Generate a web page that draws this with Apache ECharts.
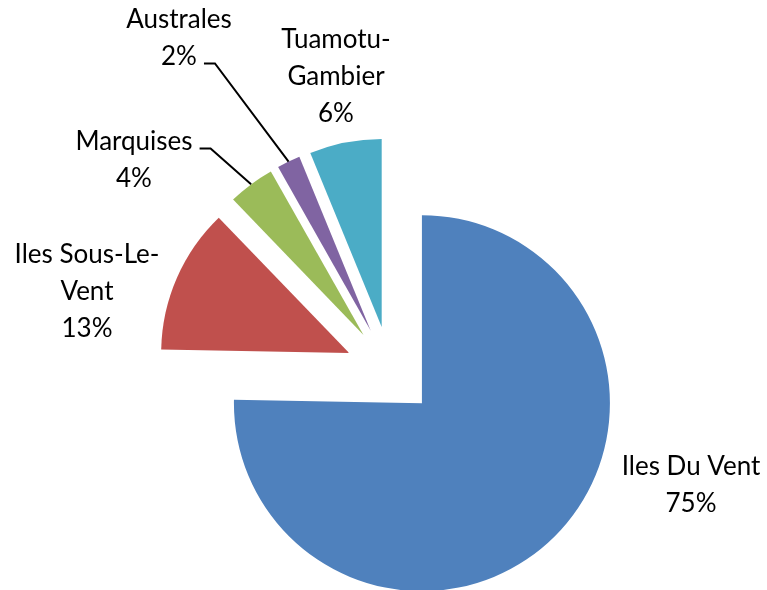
<!DOCTYPE html>
<html>
<head>
<meta charset="utf-8">
<script src="https://cdn.jsdelivr.net/npm/echarts@6/dist/echarts.min.js"></script>
<style>
  html, body { margin: 0; padding: 0; background: #fff; }
  #chart { width: 767px; height: 590px; }
</style>
</head>
<body>
<div id="chart"></div>
<script>
// archipelagos, clockwise from 12 o'clock
const regions = ['Iles Du Vent', 'Iles Sous-Le-\nVent', 'Marquises', 'Australes', 'Tuamotu-\nGambier'];
const shares = [75.3, 12.5, 4.0, 2.0, 6.2];
const colors = ['#4F81BD', '#C0504D', '#9BBB59', '#8064A2', '#4BACC6'];
// which text line the leader line leaves from (-1 = no leader)
const leaderFrom = [-1, -1, 0, 1, -1];

// where each label block is centred
const labelPos = [[691, 485], [87, 292], [134, 160], [179, 38], [336, 77]];

const EXPLODE = 45;
const FONT = 26;
const LINE_H = 37;

const ctx = document.createElement('canvas').getContext('2d');
ctx.font = FONT + 'px Lato';

const chart = echarts.init(document.getElementById('chart'));

const common = {
  type: 'pie',
  center: ['50.9%', '62.9%'],
  radius: 188,
  startAngle: 90,
  clockwise: true,
  avoidLabelOverlap: false,
  percentPrecision: 0,
  emphasis: { disabled: true }
};

chart.setOption({
  animation: false,
  series: [
    // exploded slices
    Object.assign({}, common, {
      selectedMode: 'multiple',
      selectedOffset: EXPLODE,
      label: { show: false },
      labelLine: { show: false },
      data: regions.map((name, i) => ({
        name: name,
        value: shares[i],
        selected: true,
        itemStyle: { color: colors[i] }
      }))
    }),
    // labels only
    Object.assign({}, common, {
      silent: true,
      z: 3,
      itemStyle: { color: 'rgba(0,0,0,0)' },
      label: {
        show: true,
        position: 'outside',
        formatter: '{b}\n{d}%',
        fontFamily: 'Lato',
        fontSize: FONT,
        lineHeight: LINE_H,
        color: '#000',
        align: 'center'
      },
      labelLine: {
        show: false,
        length: 20,
        length2: 10,
        lineStyle: { color: '#000', width: 2 }
      },
      labelLayout: function (p) {
        const i = p.dataIndex;
        const pos = labelPos[i];
        const out = { x: pos[0], y: pos[1], align: 'center', verticalAlign: 'middle' };
        const pts = p.labelLinePoints;
        if (leaderFrom[i] >= 0 && pts) {
          // outward direction of the slice, from the default guide line
          const dx = pts[1][0] - pts[0][0], dy = pts[1][1] - pts[0][1];
          const len = Math.sqrt(dx * dx + dy * dy) || 1;
          const end = [pts[0][0] + dx / len * EXPLODE, pts[0][1] + dy / len * EXPLODE];
          const lines = p.text.split('\n');
          const w = ctx.measureText(lines[leaderFrom[i]]).width;
          const right = pos[0] + w / 2;
          const lineY = pos[1] - lines.length * LINE_H / 2 + (leaderFrom[i] + 0.5) * LINE_H + 7;
          out.labelLinePoints = [[right + 7, lineY], [right + 18, lineY], end];
        }
        return out;
      },
      data: regions.map((name, i) => ({
        name: name,
        value: shares[i],
        labelLine: { show: leaderFrom[i] >= 0 }
      }))
    })
  ]
});
</script>
</body>
</html>
